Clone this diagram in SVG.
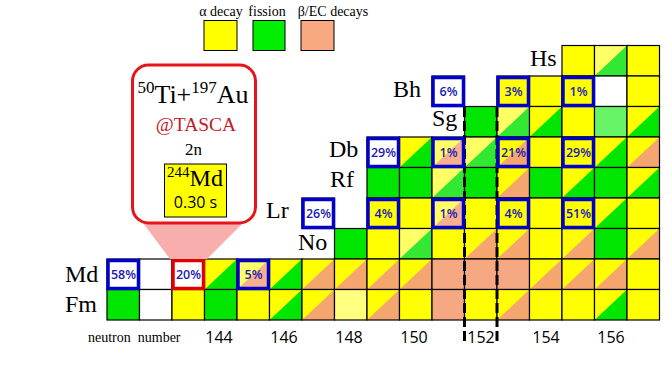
<svg xmlns="http://www.w3.org/2000/svg" xmlns:xlink="http://www.w3.org/1999/xlink" width="672" height="384" viewBox="0 0 672 384">
<style>
.sym{font-family:"Liberation Serif",serif;font-size:24px;fill:#000}
.pct{font-family:"Open Sans","Liberation Sans",sans-serif;font-size:12.5px;font-weight:600;fill:#1a1ab4;text-anchor:middle}
.tick{font-family:"Open Sans","Liberation Sans",sans-serif;font-size:16px;fill:#000;text-anchor:middle}
.leg{font-family:"Liberation Serif",serif;font-size:14px;fill:#000;text-anchor:middle}
.bbox{fill:none;stroke:#0000c8;stroke-width:3.5}
.rbox{fill:none;stroke:#e00000;stroke-width:3.5}
.ol{fill:none;stroke:#000;stroke-width:1.2}
</style>
<defs>
<g id="Y"><rect width="32.5" height="30.5" fill="#ffff00"/><rect class="ol" width="32.5" height="30.5"/></g>
<g id="LY"><rect width="32.5" height="30.5" fill="#ffff80"/><rect class="ol" width="32.5" height="30.5"/></g>
<g id="G"><rect width="32.5" height="30.5" fill="#00e600"/><rect class="ol" width="32.5" height="30.5"/></g>
<g id="LG"><rect width="32.5" height="30.5" fill="#66f466"/><rect class="ol" width="32.5" height="30.5"/></g>
<g id="O"><rect width="32.5" height="30.5" fill="#f5a882"/><rect class="ol" width="32.5" height="30.5"/></g>
<g id="W"><rect width="32.5" height="30.5" fill="#ffffff"/><rect class="ol" width="32.5" height="30.5"/></g>
<g id="YG"><rect width="32.5" height="30.5" fill="#ffff00"/><path d="M32.5 0V30.5H0Z" fill="#00e600"/><rect class="ol" width="32.5" height="30.5"/></g>
<g id="yG"><rect width="32.5" height="30.5" fill="#ffff66"/><path d="M32.5 0V30.5H0Z" fill="#33e833"/><rect class="ol" width="32.5" height="30.5"/></g>
<g id="YO"><rect width="32.5" height="30.5" fill="#ffff00"/><path d="M32.5 0V30.5H0Z" fill="#f5a66f"/><rect class="ol" width="32.5" height="30.5"/></g>
<g id="yO"><rect width="32.5" height="30.5" fill="#ffff66"/><path d="M32.5 0V30.5H0Z" fill="#f6b090"/><rect class="ol" width="32.5" height="30.5"/></g>
</defs>
<rect width="672" height="384" fill="#ffffff"/>

<g id="legend">
<text class="leg" x="221" y="16">α decay</text>
<text class="leg" x="267" y="16">fission</text>
<text class="leg" x="333" y="16">β/EC decays</text>
<rect x="204" y="20.5" width="33" height="30" fill="#ffff00" stroke="#000" stroke-width="1"/>
<rect x="253" y="20.5" width="32" height="30" fill="#00ee00" stroke="#000" stroke-width="1"/>
<rect x="301" y="20.5" width="33" height="30" fill="#f8a97f" stroke="#000" stroke-width="1"/>
</g>

<g id="row-Hs">
<text class="sym" x="530" y="66">Hs</text>
<use href="#Y" x="562" y="45.5"/><use href="#yG" x="594.5" y="45.5"/><use href="#Y" x="627" y="45.5"/>
</g>
<g id="row-Bh">
<text class="sym" x="393" y="97">Bh</text>
<use href="#W" x="432" y="76"/><use href="#Y" x="497" y="76"/><use href="#Y" x="529.5" y="76"/><use href="#Y" x="562" y="76"/><use href="#W" x="594.5" y="76"/><use href="#Y" x="627" y="76"/>
</g>
<g id="row-Sg">
<text class="sym" x="432" y="126">Sg</text>
<use href="#G" x="464.5" y="106.5"/><use href="#yG" x="497" y="106.5"/><use href="#YG" x="529.5" y="106.5"/><use href="#Y" x="562" y="106.5"/><use href="#LG" x="594.5" y="106.5"/><use href="#YG" x="627" y="106.5"/>
</g>
<g id="row-Db">
<text class="sym" x="329" y="157">Db</text>
<use href="#W" x="367" y="137"/><use href="#YG" x="399.5" y="137"/><use href="#yO" x="432" y="137"/><use href="#yG" x="464.5" y="137"/><use href="#YO" x="497" y="137"/><use href="#Y" x="529.5" y="137"/><use href="#Y" x="562" y="137"/><use href="#YG" x="594.5" y="137"/><use href="#YO" x="627" y="137"/>
</g>
<g id="row-Rf">
<text class="sym" x="330" y="187">Rf</text>
<use href="#G" x="367" y="167.5"/><use href="#G" x="399.5" y="167.5"/><use href="#yG" x="432" y="167.5"/><use href="#G" x="464.5" y="167.5"/><use href="#YO" x="497" y="167.5"/><use href="#G" x="529.5" y="167.5"/><use href="#YG" x="562" y="167.5"/><use href="#G" x="594.5" y="167.5"/><use href="#YG" x="627" y="167.5"/>
</g>
<g id="row-Lr">
<text class="sym" x="266" y="218">Lr</text>
<use href="#W" x="302" y="198"/><use href="#Y" x="367" y="198"/><use href="#Y" x="399.5" y="198"/><use href="#yO" x="432" y="198"/><use href="#Y" x="464.5" y="198"/><use href="#Y" x="497" y="198"/><use href="#Y" x="529.5" y="198"/><use href="#Y" x="562" y="198"/><use href="#YG" x="594.5" y="198"/><use href="#Y" x="627" y="198"/>
</g>
<g id="row-No">
<text class="sym" x="298" y="250">No</text>
<use href="#G" x="334.5" y="228.5"/><use href="#Y" x="367" y="228.5"/><use href="#yG" x="399.5" y="228.5"/><use href="#Y" x="432" y="228.5"/><use href="#YO" x="464.5" y="228.5"/><use href="#YO" x="497" y="228.5"/><use href="#Y" x="529.5" y="228.5"/><use href="#YO" x="562" y="228.5"/><use href="#G" x="594.5" y="228.5"/><use href="#YO" x="627" y="228.5"/>
</g>
<g id="row-Md">
<text class="sym" x="65" y="282">Md</text>
<use href="#W" x="107" y="259"/><use href="#W" x="139.5" y="259"/><use href="#W" x="172" y="259"/><use href="#YG" x="204.5" y="259"/><use href="#yO" x="237" y="259"/><use href="#YG" x="269.5" y="259"/><use href="#YO" x="302" y="259"/><use href="#YO" x="334.5" y="259"/><use href="#YO" x="367" y="259"/><use href="#YO" x="399.5" y="259"/><use href="#O" x="432" y="259"/><use href="#O" x="464.5" y="259"/><use href="#O" x="497" y="259"/><use href="#YO" x="529.5" y="259"/><use href="#YO" x="562" y="259"/><use href="#YO" x="594.5" y="259"/><use href="#Y" x="627" y="259"/>
</g>
<g id="row-Fm">
<text class="sym" x="65" y="312">Fm</text>
<use href="#G" x="107" y="289.5"/><use href="#W" x="139.5" y="289.5"/><use href="#Y" x="172" y="289.5"/><use href="#G" x="204.5" y="289.5"/><use href="#Y" x="237" y="289.5"/><use href="#YG" x="269.5" y="289.5"/><use href="#YO" x="302" y="289.5"/><use href="#LY" x="334.5" y="289.5"/><use href="#YO" x="367" y="289.5"/><use href="#Y" x="399.5" y="289.5"/><use href="#O" x="432" y="289.5"/><use href="#Y" x="464.5" y="289.5"/><use href="#YO" x="497" y="289.5"/><use href="#Y" x="529.5" y="289.5"/><use href="#Y" x="562" y="289.5"/><use href="#YG" x="594.5" y="289.5"/><use href="#Y" x="627" y="289.5"/>
</g>

<g id="connectors">
<line x1="464.5" y1="107" x2="464.5" y2="345" stroke="#000" stroke-width="3" stroke-dasharray="10 4"/>
<line x1="497" y1="107" x2="497" y2="345" stroke="#000" stroke-width="3" stroke-dasharray="10 4"/>
</g>

<g id="boxes">
<rect class="bbox" x="108" y="260.5" width="30.5" height="28"/><text class="pct" x="123.5" y="279">58%</text>
<rect class="rbox" x="173" y="260.5" width="30.5" height="28"/><text class="pct" x="188.5" y="279">20%</text>
<rect class="bbox" x="238" y="260.5" width="30.5" height="28"/><text class="pct" x="253.5" y="279">5%</text>
<rect class="bbox" x="303" y="199.5" width="30.5" height="28"/><text class="pct" x="318.5" y="218">26%</text>
<rect class="bbox" x="368" y="199.5" width="30.5" height="28"/><text class="pct" x="383.5" y="218">4%</text>
<rect class="bbox" x="433" y="199.5" width="30.5" height="28"/><text class="pct" x="448.5" y="218">1%</text>
<rect class="bbox" x="498" y="199.5" width="30.5" height="28"/><text class="pct" x="513.5" y="218">4%</text>
<rect class="bbox" x="563" y="199.5" width="30.5" height="28"/><text class="pct" x="578.5" y="218">51%</text>
<rect class="bbox" x="368" y="138.5" width="30.5" height="28"/><text class="pct" x="383.5" y="157">29%</text>
<rect class="bbox" x="433" y="138.5" width="30.5" height="28"/><text class="pct" x="448.5" y="157">1%</text>
<rect class="bbox" x="498" y="138.5" width="30.5" height="28"/><text class="pct" x="513.5" y="157">21%</text>
<rect class="bbox" x="563" y="138.5" width="30.5" height="28"/><text class="pct" x="578.5" y="157">29%</text>
<rect class="bbox" x="433" y="77.5" width="30.5" height="28"/><text class="pct" x="448.5" y="96">6%</text>
<rect class="bbox" x="498" y="77.5" width="30.5" height="28"/><text class="pct" x="513.5" y="96">3%</text>
<rect class="bbox" x="563" y="77.5" width="30.5" height="28"/><text class="pct" x="578.5" y="96">1%</text>
</g>

<g id="callout">
<polygon points="143,223 243,223 207,259 170,259" fill="#f9aeae"/>
<rect x="132.5" y="65" width="123" height="158" rx="16" fill="#ffffff" stroke="#e8141c" stroke-width="3"/>
<text x="193" y="103" text-anchor="middle" style="font-family:'Liberation Serif',serif;font-size:26px;fill:#000"><tspan font-size="17" dy="-10">50</tspan><tspan dy="10">Ti+</tspan><tspan font-size="17" dy="-10">197</tspan><tspan dy="10">Au</tspan></text>
<text x="196" y="131" text-anchor="middle" style="font-family:'Liberation Serif',serif;font-size:19.5px;fill:#c0202a">@TASCA</text>
<text x="193.5" y="155" text-anchor="middle" style="font-family:'Liberation Serif',serif;font-size:17px;fill:#000">2n</text>
<rect x="164.5" y="164" width="62" height="53" fill="#ffff00" stroke="#000" stroke-width="1"/>
<text x="195" y="186" text-anchor="middle" style="font-family:'Liberation Serif',serif;font-size:24px;fill:#000"><tspan font-size="15" dy="-9">244</tspan><tspan dy="9">Md</tspan></text>
<text x="195.5" y="208" text-anchor="middle" style="font-family:'Open Sans','Liberation Sans',sans-serif;font-size:16px;fill:#000">0.30 s</text>
</g>

<g id="axis">
<text x="88" y="341.5" style="font-family:'Liberation Serif',serif;font-size:14px;fill:#000;white-space:pre">neutron  number</text>
<text class="tick" x="219" y="343">144</text>
<text class="tick" x="284" y="343">146</text>
<text class="tick" x="349" y="343">148</text>
<text class="tick" x="414" y="343">150</text>
<text class="tick" x="481" y="343">152</text>
<text class="tick" x="546" y="343">154</text>
<text class="tick" x="611" y="343">156</text>
</g>
</svg>
